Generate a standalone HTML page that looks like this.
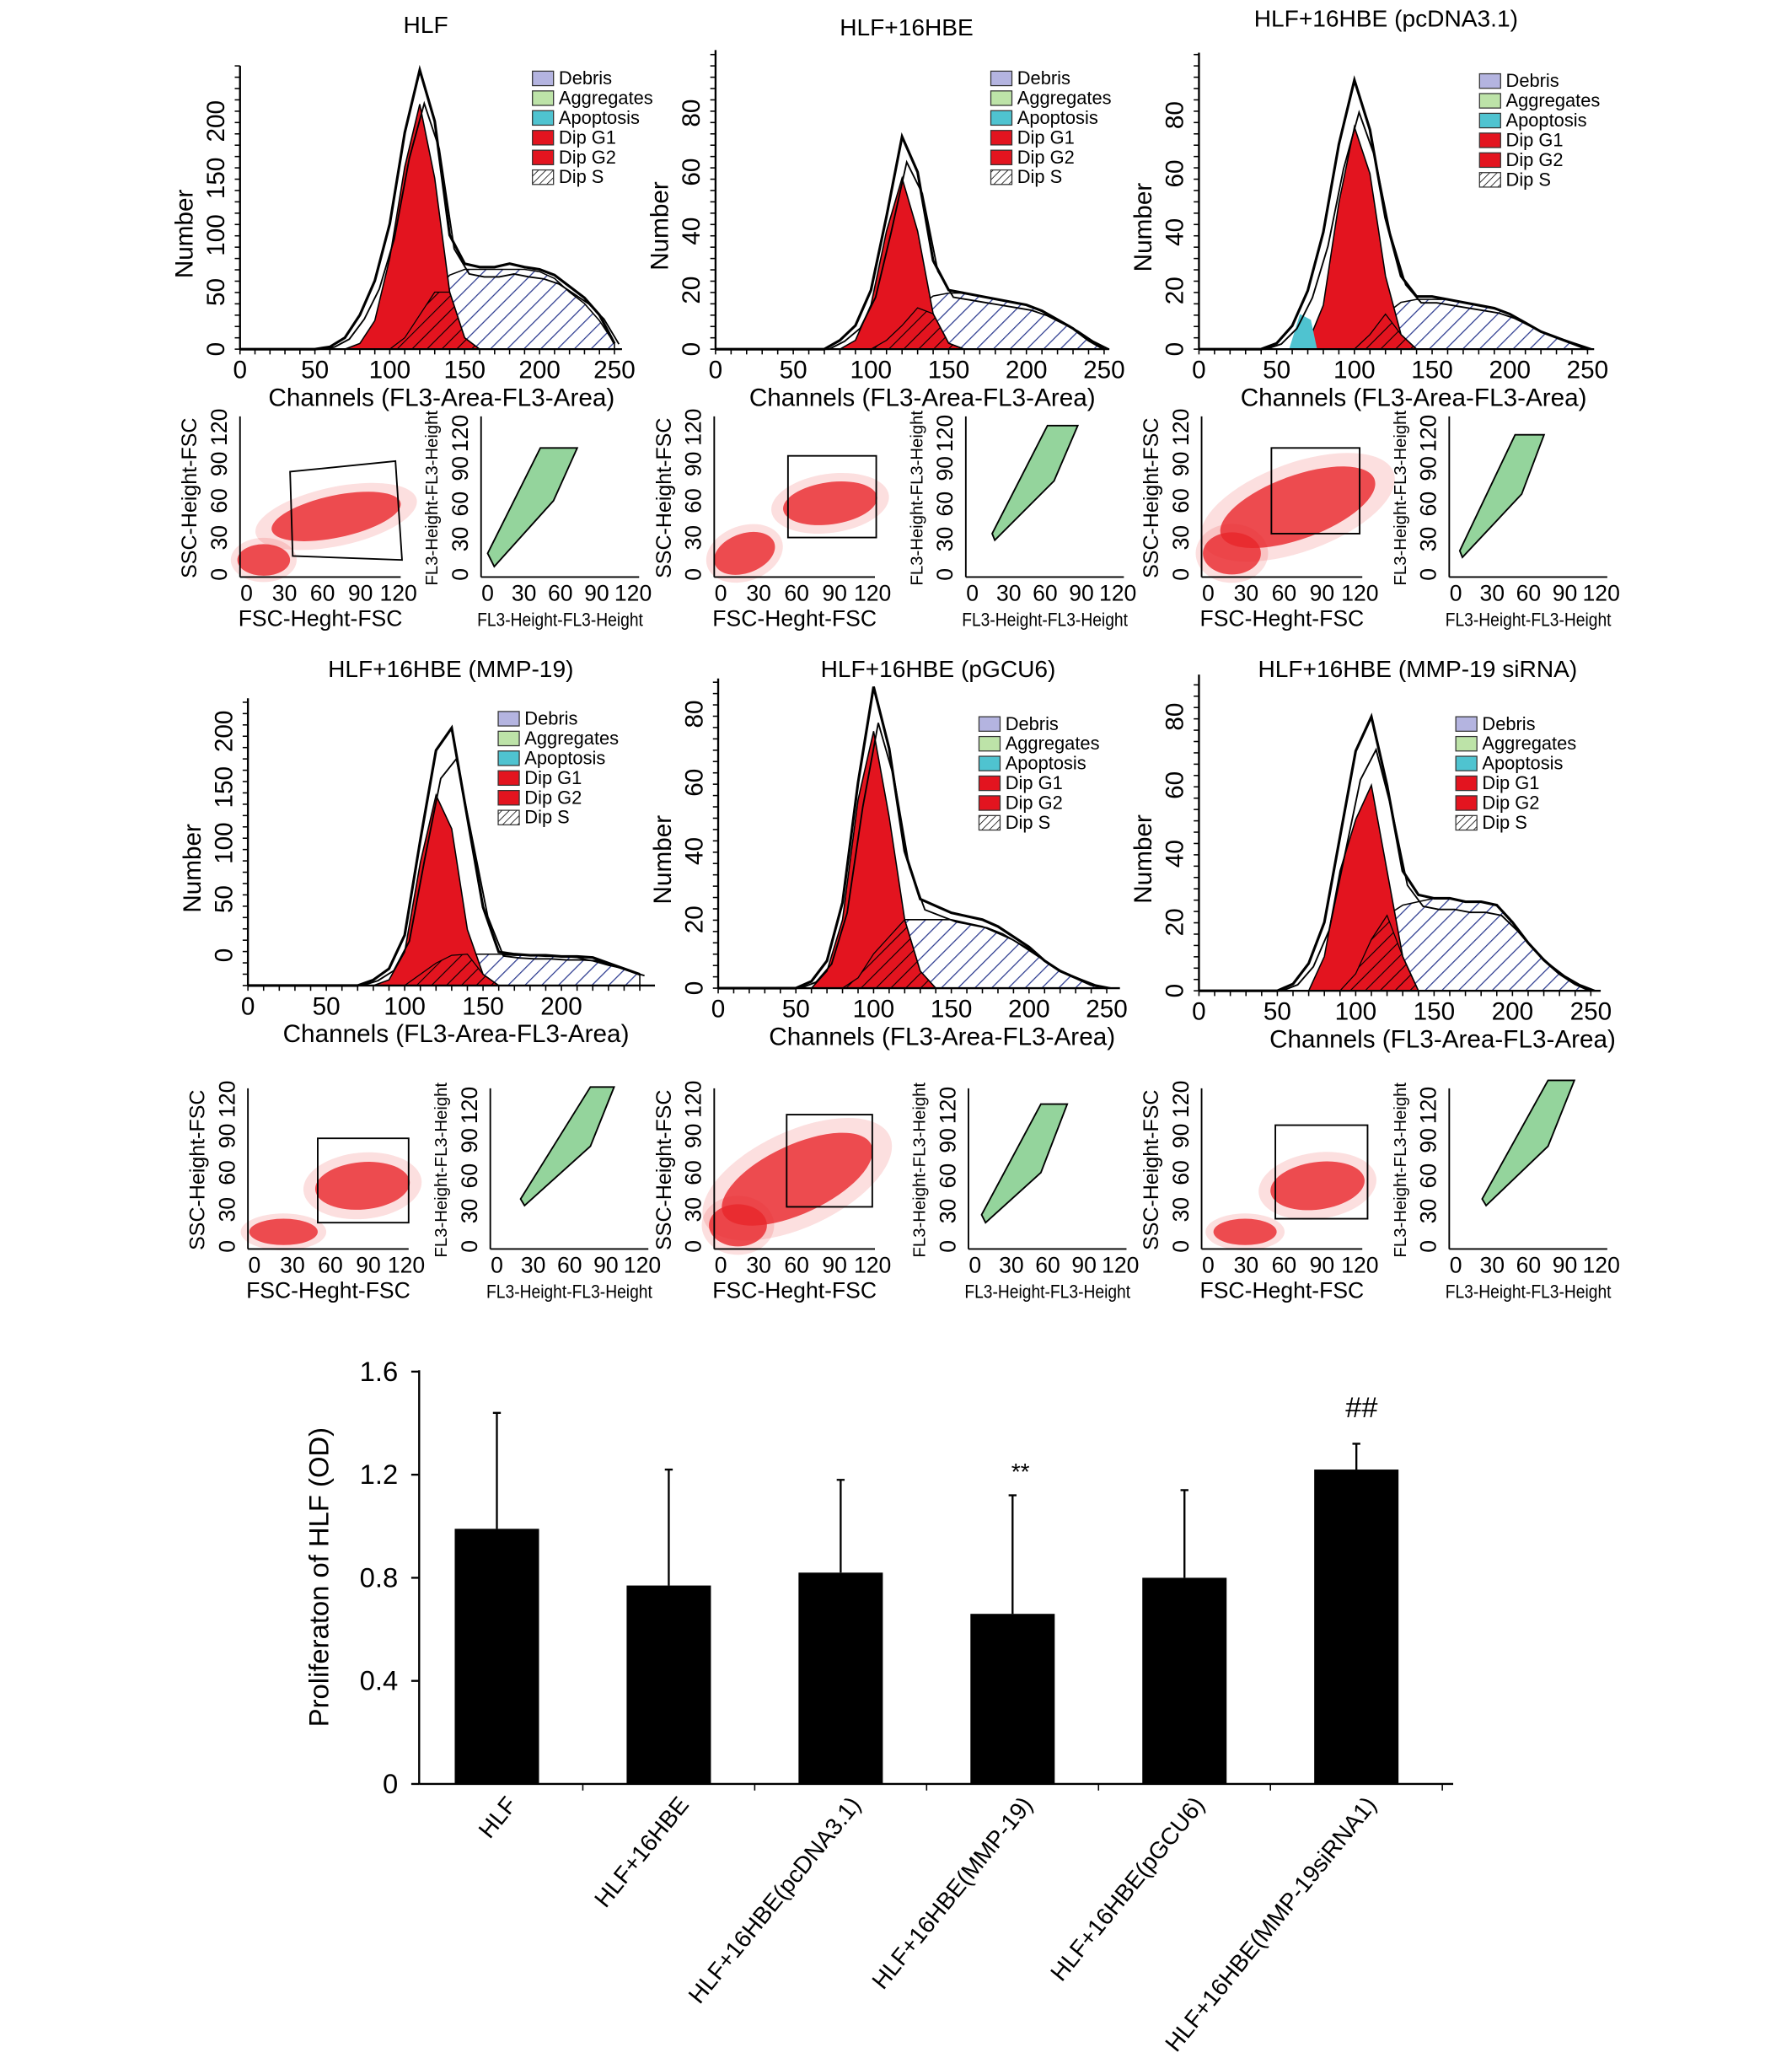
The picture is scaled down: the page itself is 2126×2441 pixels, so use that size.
<!DOCTYPE html>
<html><head><meta charset="utf-8"><style>
html,body{margin:0;padding:0;background:#fff}
svg{display:block;font-family:"Liberation Sans",Arial,sans-serif}
</style></head><body>
<svg id="fig" width="2126" height="2441" viewBox="0 0 1360 1562" xmlns="http://www.w3.org/2000/svg">
<defs>
<pattern id="hatchBlue" patternUnits="userSpaceOnUse" width="9" height="9" patternTransform="rotate(45)"><rect width="9" height="9" fill="#fff"/><line x1="0" y1="0" x2="0" y2="9" stroke="#2b3a8f" stroke-width="1.6"/></pattern>
<pattern id="hatchBlack" patternUnits="userSpaceOnUse" width="8" height="8" patternTransform="rotate(45)"><line x1="0" y1="0" x2="0" y2="8" stroke="#000" stroke-width="1.4"/></pattern>
<pattern id="hatchLeg" patternUnits="userSpaceOnUse" width="4" height="4" patternTransform="rotate(45)"><rect width="4" height="4" fill="#fff"/><line x1="0" y1="0" x2="0" y2="4" stroke="#000" stroke-width="1"/></pattern>
</defs>
<g id="hists"></g>
<g id="scatters"></g>
<g id="bars"></g>
</svg>
<script>
const NS='http://www.w3.org/2000/svg';
function mk(parent,tag,attrs,text){const e=document.createElementNS(NS,tag);for(const k in attrs)e.setAttribute(k,attrs[k]);if(text!==undefined)e.textContent=text;parent.appendChild(e);return e;}

// ---------- Histogram data (channel grid 0..250 step 10) ----------
const channels=[0,10,20,30,40,50,60,70,80,90,100,110,120,130,140,150,160,170,180,190,200,210,220,230,240,250];
const histTitles=["HLF","HLF+16HBE","HLF+16HBE (pcDNA3.1)","HLF+16HBE (MMP-19)","HLF+16HBE (pGCU6)","HLF+16HBE (MMP-19 siRNA)"];
const outline1=[0,0,0,0,0,0,2,10,30,60,110,190,245,200,100,75,72,72,75,72,70,65,55,45,30,5];
const g1_1=[0,0,0,0,0,0,0,0,5,25,80,160,215,150,50,10,0,0,0,0,0,0,0,0,0,0];
const s1=[0,0,0,0,0,0,0,0,0,0,0,10,30,50,65,70,70,70,70,70,68,62,50,40,25,5];
const outline2=[0,0,0,0,0,0,0,0,3,8,20,45,72,60,30,20,19,18,17,16,15,13,10,7,3,0];
const g1_2=[0,0,0,0,0,0,0,0,0,3,15,40,58,40,12,2,0,0,0,0,0,0,0,0,0,0];
const s2=[0,0,0,0,0,0,0,0,0,0,0,3,8,14,18,19,19,18,17,16,15,13,10,7,3,0];
const outline3=[0,0,0,0,0,2,8,20,40,70,92,75,45,25,18,18,17,16,15,14,12,9,6,4,2,0];
const g1_3=[0,0,0,0,0,0,0,2,15,50,76,60,25,5,0,0,0,0,0,0,0,0,0,0,0,0];
const s3=[0,0,0,0,0,0,0,0,0,0,0,5,12,16,17,17,17,16,15,14,12,9,6,4,2,0];
const outline4=[0,0,0,0,0,0,0,0,5,15,45,130,210,230,150,70,30,28,27,27,26,26,25,20,15,10];
const g1_4=[0,0,0,0,0,0,0,0,0,5,30,110,170,140,50,10,0,0,0,0,0,0,0,0,0,0];
const s4=[0,0,0,0,0,0,0,0,0,0,0,10,20,27,28,28,28,27,27,26,26,25,22,18,15,10];
const outline5=[0,0,0,0,0,0,2,8,25,60,88,70,40,26,24,22,21,20,18,15,12,8,5,3,1,0];
const g1_5=[0,0,0,0,0,0,0,5,20,55,75,50,20,5,0,0,0,0,0,0,0,0,0,0,0,0];
const s5=[0,0,0,0,0,0,0,0,0,3,10,15,20,20,20,20,19,18,16,14,11,8,5,3,1,0];
const outline6=[0,0,0,0,0,0,2,8,20,45,70,80,60,35,28,27,27,26,26,25,20,14,9,5,2,0];
const g1_6=[0,0,0,0,0,0,0,0,10,35,50,60,35,10,0,0,0,0,0,0,0,0,0,0,0,0];
const s6=[0,0,0,0,0,0,0,0,0,0,5,15,22,25,26,27,27,26,26,25,20,14,9,5,2,0];
const yTicks1=[0,50,100,150,200], yTicks2=[0,20,40,60,80];
const xTicksH=[0,50,100,150,200,250];
const legendItems=["Debris","Aggregates","Apoptosis","Dip G1","Dip G2","Dip S"];

const panels=[
 {out:outline1,g1:g1_1,s:s1,yt:yTicks1,x0:182,y0:265,pxc:1.137,pyu:0.865,top:50,xend:472,tx:323,ty:25,lx:404,ly:54,xt:xTicksH,xtitle:335,ytOff:0},
 {out:outline2,g1:g1_2,s:s2,yt:yTicks2,x0:543,y0:265,pxc:1.18,pyu:2.24,top:38,xend:842,tx:688,ty:27,lx:752,ly:54,xt:xTicksH,xtitle:700,ytOff:0},
 {out:outline3,g1:g1_3,s:s3,yt:yTicks2,x0:910,y0:265,pxc:1.18,pyu:2.22,top:40,xend:1210,tx:1052,ty:20,lx:1123,ly:56,xt:xTicksH,xtitle:1073,ytOff:0,apop:true},
 {out:outline4,g1:g1_4,s:s4,yt:yTicks1,x0:188,y0:748,pxc:1.19,pyu:0.85,top:530,xend:497,tx:342,ty:514,lx:378,ly:540,xt:[0,50,100,150,200],xtitle:346,ytOff:-23},
 {out:outline5,g1:g1_5,s:s5,yt:yTicks2,x0:545,y0:750,pxc:1.18,pyu:2.6,top:515,xend:850,tx:712,ty:514,lx:743,ly:544,xt:xTicksH,xtitle:715,ytOff:0},
 {out:outline6,g1:g1_6,s:s6,yt:yTicks2,x0:910,y0:752,pxc:1.19,pyu:2.6,top:512,xend:1215,tx:1076,ty:514,lx:1105,ly:544,xt:xTicksH,xtitle:1095,ytOff:0}
];
const legColors=["#b4b4e0","#bde3a8","#4fc3d0","#e3141f","#e3141f","url(#hatchLeg)"];

const H=document.getElementById('hists');
panels.forEach((p,i)=>{
  const g=mk(H,'g',{});
  
  
  const X=c=>p.x0+c*p.pxc, Y=v=>p.y0-v*p.pyu;
  const t=mk(g,'text',{x:p.tx,y:p.ty,'font-size':18,'text-anchor':'middle'},histTitles[i]);
  
  let d='M'+X(channels[0])+','+p.y0;
  channels.forEach((c,k)=>{d+=' L'+X(c)+','+Y(p.s[k]);});
  d+=' L'+X(250)+','+p.y0+' Z';
  const sa=mk(g,'path',{d:d,fill:'url(#hatchBlue)',stroke:'#000','stroke-width':1});
  
  d='M'+X(0)+','+p.y0;
  channels.forEach((c,k)=>{d+=' L'+X(c)+','+Y(p.g1[k]);});
  d+=' L'+X(250)+','+p.y0+' Z';
  const ga=mk(g,'path',{d:d,fill:'#e3141f',stroke:'#000','stroke-width':1});
  
  d='M'+X(0)+','+p.y0;
  channels.forEach((c,k)=>{d+=' L'+X(c)+','+Y(Math.min(p.g1[k],p.s[k]));});
  d+=' L'+X(250)+','+p.y0+' Z';
  mk(g,'path',{d:d,fill:'url(#hatchBlack)',stroke:'#000','stroke-width':0.8});
  if(p.apop){const ap=mk(g,'path',{d:`M${X(58)},${p.y0} L${X(65)},${Y(12)} L${X(72)},${Y(10)} L${X(76)},${p.y0} Z`,fill:'#4fc3d0'});
    }
  d='M'+X(0)+','+Y(p.out[0]);
  channels.forEach((c,k)=>{d+=' L'+X(c)+','+Y(p.out[k]);});
  const ol=mk(g,'path',{d:d,fill:'none',stroke:'#000','stroke-width':2});
  
  d='M'+X(0)+','+Y(p.out[0]*0.9);
  channels.forEach((c,k)=>{d+=' L'+X(c+3)+','+Y(p.out[k]*0.88);});
  mk(g,'path',{d:d,fill:'none',stroke:'#000','stroke-width':1.2});
  mk(g,'line',{x1:p.x0,y1:p.top,x2:p.x0,y2:p.y0,stroke:'#000','stroke-width':1.5});
  mk(g,'line',{x1:p.x0,y1:p.y0,x2:p.xend,y2:p.y0,stroke:'#000','stroke-width':1.5});
  for(let y=p.y0;y>p.top;y-=8.6)mk(g,'line',{x1:p.x0-4,y1:y,x2:p.x0,y2:y,stroke:'#000','stroke-width':1});
  for(let c=0;c<=250;c+=10){if(X(c)<=p.xend)mk(g,'line',{x1:X(c),y1:p.y0,x2:X(c),y2:p.y0+4,stroke:'#000','stroke-width':1});}
  p.xt.forEach(v=>{mk(g,'text',{x:X(v),y:p.y0+22,'font-size':19,'text-anchor':'middle'},String(v));});
  p.yt.forEach(v=>{const yy=Y(v)+p.ytOff;mk(g,'text',{x:0,y:0,'font-size':19,'text-anchor':'middle',transform:`translate(${p.x0-12},${yy}) rotate(-90)`},String(v));});
  const yl=mk(g,'text',{x:0,y:0,'font-size':19,'text-anchor':'middle',transform:`translate(${p.x0-36},${(p.top+p.y0)/2+20}) rotate(-90)`},'Number');
  
  const xl=mk(g,'text',{x:p.xtitle,y:p.y0+43,'font-size':19,'text-anchor':'middle'},'Channels (FL3-Area-FL3-Area)');
  
  const lg=mk(g,'g',{});
  
  legendItems.forEach((n,k)=>{
    mk(lg,'rect',{x:p.lx,y:p.ly+k*15,width:16,height:11,fill:legColors[k],stroke:'#333','stroke-width':0.8});
    const lt=mk(lg,'text',{x:p.lx+20,y:p.ly+k*15+10,'font-size':14},n);
    
  });
});

// ---------- Scatter plots (schematic density clouds) ----------
const sTicks=[0,30,60,90,120];
const scatterPanels=[
 {x0:182,y0:438,gate:'220,358 300,350 305,425 222,422',cloud:[[255,392,50,16,-12],[200,425,20,12,0]]},
 {x0:542,y0:438,gate:'598,346 665,346 665,408 598,408',cloud:[[630,382,36,16,-8],[565,420,24,15,-20]]},
 {x0:912,y0:438,gate:'965,340 1032,340 1032,405 965,405',cloud:[[985,385,62,24,-20],[935,420,22,16,0]]},
 {x0:188,y0:948,gate:'241,864 310,864 310,928 241,928',cloud:[[275,900,36,18,-5],[215,935,26,10,0]]},
 {x0:542,y0:948,gate:'597,846 662,846 662,916 597,916',cloud:[[605,895,62,26,-25],[560,930,22,16,0]]},
 {x0:912,y0:948,gate:'968,854 1038,854 1038,925 968,925',cloud:[[1000,900,36,18,-8],[945,935,24,10,0]]}
];
const fl3Panels=[
 {x0:365,y0:438,poly:'370,420 410,340 438,340 420,380 375,430'},
 {x0:733,y0:438,poly:'753,405 795,323 818,323 800,365 755,410'},
 {x0:1100,y0:438,poly:'1108,418 1150,330 1172,330 1155,375 1110,423'},
 {x0:372,y0:948,poly:'395,910 448,825 466,825 448,870 398,915'},
 {x0:735,y0:948,poly:'745,922 790,838 810,838 790,890 748,928'},
 {x0:1100,y0:948,poly:'1125,910 1175,820 1195,820 1175,870 1128,915'}
];
const S=document.getElementById('scatters');
function axes(g,x0,y0,w,h,xt,yt,sx,small){
  mk(g,'line',{x1:x0,y1:y0-h,x2:x0,y2:y0,stroke:'#000','stroke-width':1.2});
  mk(g,'line',{x1:x0,y1:y0,x2:x0+w,y2:y0,stroke:'#000','stroke-width':1.2});
  sTicks.forEach((v,k)=>{const xx=x0+5+v*sx, yy=y0-2-v*sx*0.97;
    mk(g,'text',{x:xx,y:y0+18,'font-size':17,'text-anchor':'middle'},String(v));
    mk(g,'text',{x:0,y:0,'font-size':17,'text-anchor':'middle',transform:`translate(${x0-10},${yy}) rotate(-90)`},String(v));
  });
  mk(g,'text',{x:x0+w/2,y:y0+37,'font-size':small?14:17,'text-anchor':'middle',transform:small?`translate(${(x0+w/2)*0.12},0) scale(0.88,1)`:''},xt);
  mk(g,'text',{x:0,y:0,'font-size':small?13:16,'text-anchor':'middle',transform:`translate(${x0-33},${y0-60}) rotate(-90)`},yt);
}
scatterPanels.forEach((p,i)=>{
  const g=mk(S,'g',{});
  
  p.cloud.forEach(c=>{
    mk(g,'ellipse',{cx:c[0],cy:c[1],rx:c[2]*1.25,ry:c[3]*1.4,fill:'#e8262b',opacity:0.15,transform:`rotate(${c[4]},${c[0]},${c[1]})`});
    mk(g,'ellipse',{cx:c[0],cy:c[1],rx:c[2],ry:c[3],fill:'#e8262b',opacity:0.8,transform:`rotate(${c[4]},${c[0]},${c[1]})`});});
  const gt=mk(g,'polygon',{points:p.gate,fill:'none',stroke:'#000','stroke-width':1.2});
  
  axes(g,p.x0,p.y0,122,122,'FSC-Heght-FSC','SSC-Height-FSC',0.96,false);
});
fl3Panels.forEach((p,i)=>{
  const g=mk(S,'g',{});
  
  mk(g,'polygon',{points:p.poly,fill:'#3cb04a',opacity:0.55});
  const gt=mk(g,'polygon',{points:p.poly,fill:'none',stroke:'#000','stroke-width':1.2});
  
  axes(g,p.x0,p.y0,120,122,'FL3-Height-FL3-Height','FL3-Height-FL3-Height',0.92,true);
});

// ---------- Bar chart ----------
const barCats=["HLF","HLF+16HBE","HLF+16HBE(pcDNA3.1)","HLF+16HBE(MMP-19)","HLF+16HBE(pGCU6)","HLF+16HBE(MMP-19siRNA1)"];
const barVals=[0.99,0.77,0.82,0.66,0.80,1.22];
const barErrTop=[1.44,1.22,1.18,1.12,1.14,1.32];
const barMarks=["","","","**","","##"];
const barTicks=[0,0.4,0.8,1.2,1.6];
const B=document.getElementById('bars');
const bx0=318,by0=1354,bxe=1103,ppu=195.6,bstep=130.5,bfirst=377,bw=64;
const bY=v=>by0-v*ppu, bX=i=>bfirst+i*bstep;
mk(B,'line',{x1:bx0,y1:1040,x2:bx0,y2:by0,stroke:'#000','stroke-width':1.5});
mk(B,'line',{x1:bx0,y1:by0,x2:bxe,y2:by0,stroke:'#000','stroke-width':1.5});
barTicks.forEach(v=>{mk(B,'line',{x1:bx0-6,y1:bY(v),x2:bx0,y2:bY(v),stroke:'#000','stroke-width':1.5});
  const t=mk(B,'text',{x:bx0-16,y:bY(v)+7,'font-size':21,'text-anchor':'end'},String(v));
  });
const yt=mk(B,'text',{x:0,y:0,'font-size':21,'text-anchor':'middle',transform:`translate(249,1197) rotate(-90)`},'Proliferaton of HLF (OD)');

barCats.forEach((c,i)=>{
  const x=bX(i);
  const r=mk(B,'rect',{x:x-bw/2,y:bY(barVals[i]),width:bw,height:by0-bY(barVals[i]),fill:'#000'});
  
  const e=mk(B,'path',{d:`M${x},${bY(barVals[i])} V${bY(barErrTop[i])} M${x-3},${bY(barErrTop[i])} H${x+3}`,stroke:'#000','stroke-width':1.5,fill:'none'});
  
  if(barMarks[i]){const m=mk(B,'text',{x:x+(i==5?4:6),y:bY(barErrTop[i])-(i==5?20:12),'font-size':i==5?22:18,'text-anchor':'middle'},barMarks[i]);
    }
  mk(B,'line',{x1:x+bstep/2,y1:by0,x2:x+bstep/2,y2:by0+5,stroke:'#000','stroke-width':1});
  const l=mk(B,'text',{x:0,y:0,'font-size':18,'text-anchor':'end',transform:`translate(${x+16},${by0+16}) rotate(-51)`},c);
  
});
</script>
</body></html>
